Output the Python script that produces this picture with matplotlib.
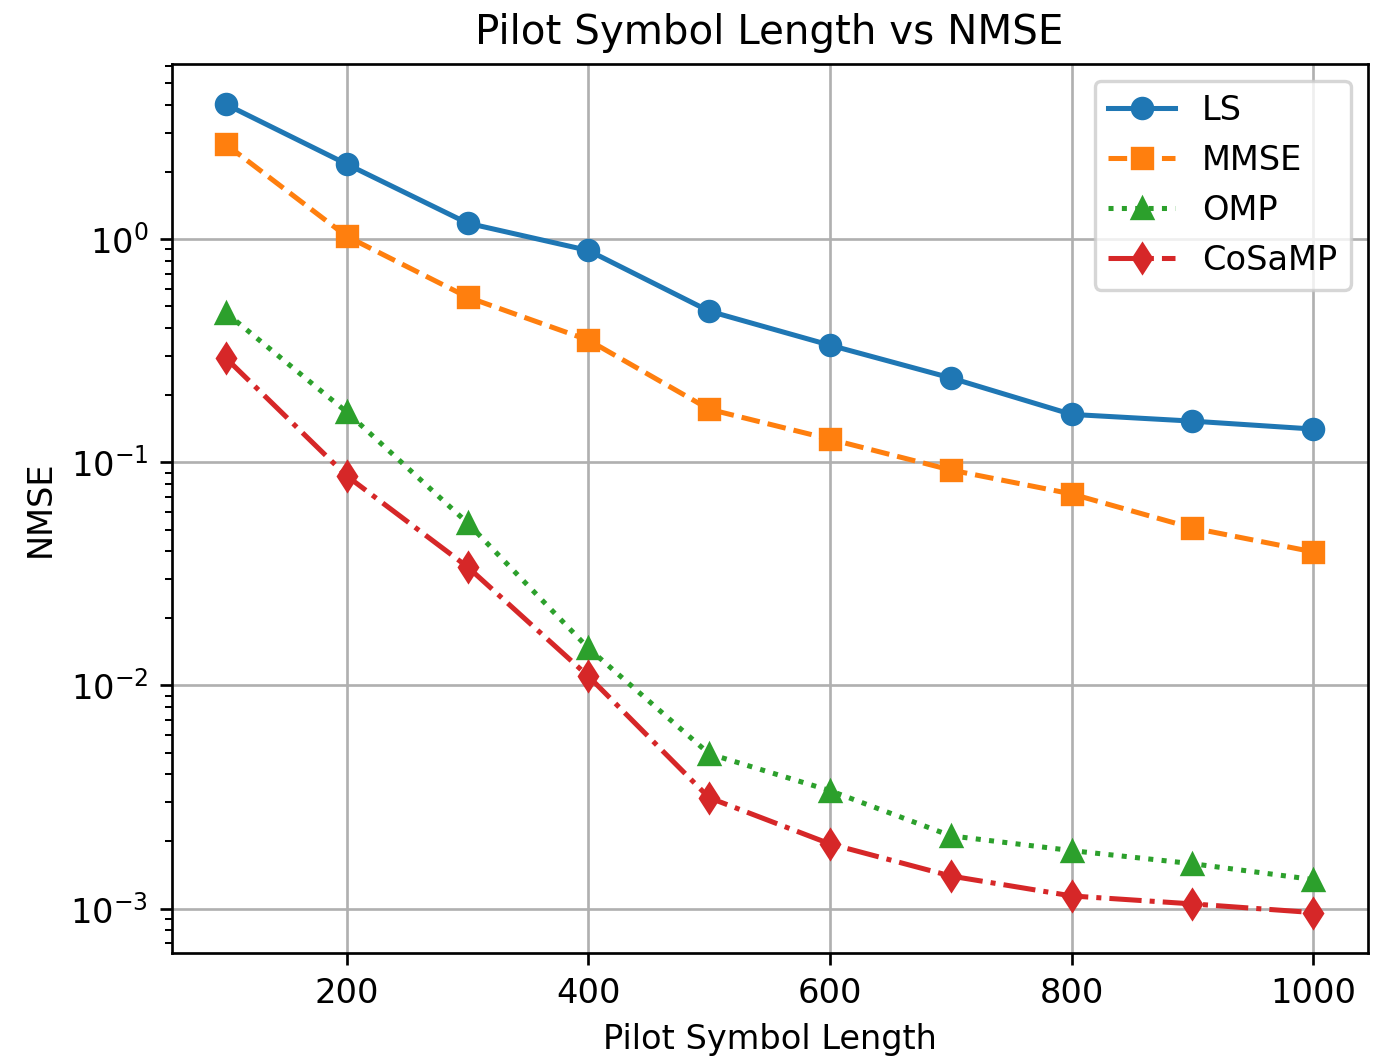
import matplotlib
matplotlib.use('Agg')
import matplotlib.pyplot as plt

pilot_len = [100, 200, 300, 400, 500, 600, 700, 800, 900, 1000]

nmse_ls = [4.02, 2.17, 1.18, 0.89, 0.476, 0.335, 0.239, 0.164, 0.153, 0.141]
nmse_mmse = [2.66, 1.03, 0.55, 0.353, 0.173, 0.127, 0.0924, 0.0722, 0.0508, 0.0397]
nmse_omp = [0.468, 0.168, 0.0535, 0.0147, 0.00494, 0.00338, 0.00212, 0.00182, 0.00159, 0.00135]
nmse_cosamp = [0.293, 0.0869, 0.034, 0.0110, 0.00314, 0.00195, 0.0014, 0.00114, 0.00105, 0.00096]

dpi = 242
fig = plt.figure(figsize=(1373/dpi, 1059/dpi), dpi=dpi)
ax = fig.add_axes([0.125, 0.1001, 0.871, 0.8395])

ax.semilogy(pilot_len, nmse_ls, 'o-', label='LS')
ax.semilogy(pilot_len, nmse_mmse, 's--', label='MMSE')
ax.semilogy(pilot_len, nmse_omp, '^:', label='OMP')
ax.semilogy(pilot_len, nmse_cosamp, 'd-.', label='CoSaMP')

ax.set_title('Pilot Symbol Length vs NMSE')
ax.set_xlabel('Pilot Symbol Length')
ax.set_ylabel('NMSE')
ax.grid(True)
ax.legend(loc='upper right')

fig.savefig('out.png', dpi=dpi)
